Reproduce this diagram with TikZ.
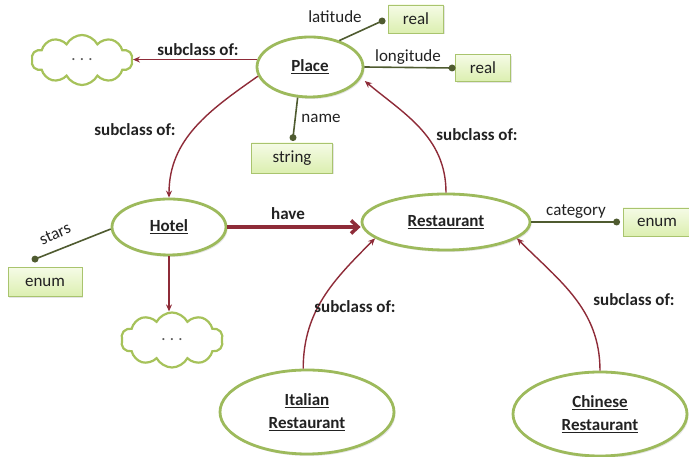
\documentclass[tikz,border=0pt]{standalone}
\usepackage{fontspec}
\setmainfont{Carlito}
\usetikzlibrary{shapes.geometric,shapes.symbols,arrows.meta,shadows}

\definecolor{clsgreen}{HTML}{9DBA5C}
\definecolor{cloudgreen}{HTML}{A6C25A}
\definecolor{relred}{HTML}{8E2B38}
\definecolor{attrgreen}{HTML}{4F5B30}
\definecolor{boxtop}{HTML}{F5FBE6}
\definecolor{boxbot}{HTML}{DCEFB0}
\definecolor{boxedge}{HTML}{A9C46E}
\definecolor{txt}{HTML}{222222}

\tikzset{
  cls/.style={ellipse, draw=clsgreen, line width=2.8pt, fill=white, inner sep=0pt,
    align=center, text=txt, font=\fontsize{17}{21}\selectfont\bfseries,
    drop shadow={shadow xshift=1.5pt, shadow yshift=-2pt, opacity=0.2}},
  valbox/.style={rectangle, draw=boxedge, line width=0.8pt, top color=boxtop,
    bottom color=boxbot, inner sep=0pt, text=txt, font=\fontsize{17}{20}\selectfont,
    drop shadow={shadow xshift=1.2pt, shadow yshift=-1.5pt, opacity=0.2}},
  cloudbox/.style={cloud, cloud puffs=10, cloud puff arc=125, aspect=2,
    draw=cloudgreen, line width=2.2pt, fill=white, inner sep=0pt, text=black!65,
    font=\fontsize{14}{16}\selectfont\bfseries},
  subarrow/.style={draw=relred, line width=1.4pt, -{Stealth[length=7pt,width=6pt]}},
  havearrow/.style={draw=relred, line width=3.5pt, -{Straight Barb[length=7pt,width=13pt]}},
  attr/.style={draw=attrgreen, line width=1.6pt},
  attrdot/.style={fill=attrgreen},
  attrlbl/.style={text=txt, font=\fontsize{17}{20}\selectfont, inner sep=1pt},
  sublbl/.style={text=txt, font=\fontsize{17}{20}\selectfont\bfseries, inner sep=1pt}
}

\begin{document}
\begin{tikzpicture}[x=1pt,y=1pt]
\useasboundingbox (0,0) rectangle (689,457);
\fill[white] (0,0) rectangle (689,457);

% classes
\node[cls, minimum width=106pt, minimum height=60pt] (place) at (310,390) {\underline{Place}};
\node[cls, minimum width=114pt, minimum height=56pt] (hotel) at (169,230) {\underline{Hotel}};
\node[cls, minimum width=168pt, minimum height=56pt] (rest) at (446,235) {\underline{Restaurant}};
\node[cls, minimum width=174pt, minimum height=84pt] (ital) at (307,45) {\underline{Italian}\\[2pt]\underline{Restaurant}};
\node[cls, minimum width=174pt, minimum height=84pt] (chin) at (600,43) {\underline{Chinese}\\[2pt]\underline{Restaurant}};

% unnamed further classes
\node[cloudbox, minimum width=101pt, minimum height=50pt] (up) at (82,397) {.\,\,.\,\,.};
\node[cloudbox, minimum width=102pt, minimum height=55pt] (down) at (172,117) {.\,\,.\,\,.};

% value types
\node[valbox, minimum width=55pt, minimum height=28pt] (lat) at (416,438) {real};
\node[valbox, minimum width=55pt, minimum height=27pt] (lon) at (483,389) {real};
\node[valbox, minimum width=81pt, minimum height=30pt] (str) at (292,299) {string};
\node[valbox, minimum width=74pt, minimum height=29pt] (en1) at (45,175) {enum};
\node[valbox, minimum width=68pt, minimum height=28pt] (en2) at (657,235) {enum};

% attribute end points
\coordinate (latd) at ([xshift=-6pt,yshift=-2pt]lat.west);
\coordinate (lond) at ([xshift=-3pt]lon.west);
\coordinate (named) at ([xshift=1pt,yshift=5pt]str.north);
\coordinate (starsd) at ([xshift=-10pt,yshift=8pt]en1.north);
\coordinate (catd) at ([xshift=-6pt]en2.west);

% attributes
\draw[attr] (place.42) -- (latd);
\draw[attr] (place.east) -- (lond);
\draw[attr] (place.-112) -- (named);
\draw[attr] (hotel.182) -- (starsd);
\draw[attr] (rest.east) -- (catd);
\foreach \d in {latd,lond,named,starsd,catd} \fill[attrdot] (\d) circle (3.5pt);

\node[attrlbl] (latl) at (335,440) {latitude};
\node[attrlbl] (lonl) at (408,400) {longitude};
\node[attrlbl] (namel) at (321,339) {name};
\node[attrlbl, rotate=24] (starsl) at (55,223) {stars};
\node[attrlbl] (catl) at (576,245) {category};

% relations
\draw[subarrow] (place.172) -- (place.172 -| up.east);
\draw[subarrow] (place.190) to[out=215,in=90] (hotel.north);
\draw[subarrow, shorten >=5pt] (rest.north) to[out=90,in=-40] (place.-12);
\draw[havearrow] (hotel.east) -- (hotel.east -| rest.west);
\draw[subarrow] (hotel.south) -- (hotel.south |- down.north);
\draw[subarrow] (ital.95) to[out=90,in=225] (rest.193);
\draw[subarrow] (chin.north) to[out=90,in=-45] (rest.-13);

\node[sublbl] (l1) at (198,407) {subclass of:};
\node[sublbl] (l2) at (135,327) {subclass of:};
\node[sublbl] (l3) at (477,322) {subclass of:};
\node[sublbl] (l4) at (355,150) {subclass of:};
\node[sublbl] (l5) at (634,157) {subclass of:};
\node[sublbl] (lh) at (288,243) {have};
\end{tikzpicture}
\end{document}
